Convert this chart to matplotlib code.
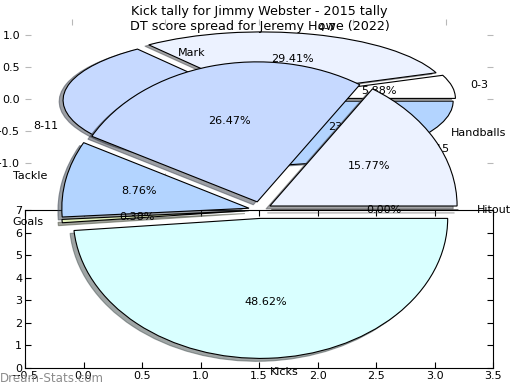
import matplotlib
matplotlib.use('Agg')
import matplotlib.pyplot as plt

# Jimmy Webster 2015 - games per kick bracket
tally_labels = ['0-3', '4-7', '8-11', '12-15']
tally_games = [1, 5, 7, 4]

# Jeremy Howe 2022 - share of DT score (%)
dt_labels = ['Hitout', 'Handballs', 'Mark', 'Tackle', 'Goals', 'Kicks']
dt_share = [0.00, 15.77, 26.47, 8.76, 0.38, 48.62]

colours = ['#ffffff', '#ecf2ff', '#c6d9ff', '#b3d4ff', '#e4f3bd', '#d9ffff']

# leftover empty frame underneath
frame_xticks = [-0.5, 0.0, 0.5, 1.0, 1.5, 2.0, 2.5, 3.0, 3.5]
frame_yticks = [0, 1, 2, 3, 4, 5, 6, 7]

plt.rcParams['font.family'] = 'DejaVu Sans'
plt.rcParams['font.size'] = 8

W, H = 520, 390
fig = plt.figure(figsize=(W / 100, H / 100), dpi=100)

shadow = dict(ox=-0.015, oy=-0.015)

# first pie (kick tally)
ax1 = fig.add_axes([25 / W, 1 - 179 / H, 468 / W, 160 / H])
ax1.pie(tally_games, labels=tally_labels, colors=colours[:len(tally_games)],
        explode=[0.05] * len(tally_games), shadow=shadow, autopct='%.2f%%',
        wedgeprops=dict(edgecolor='black', linewidth=0.8))
ax1.set_aspect('auto')
ax1.set_xlim(-1.25, 1.25)
ax1.set_ylim(-1.25, 1.25)
ax1.set_xticks([-1, -0.5, 0, 0.5, 1])
ax1.set_yticks([-1, -0.5, 0, 0.5, 1])
ax1.tick_params(direction='in', color='#b8b8b8', labelcolor='black',
                left=True, right=True, top=True, bottom=True,
                labelbottom=False, length=4)
ax1.set_title('Kick tally for Jimmy Webster - 2015 tally', fontsize=9.2, pad=3)

# empty frame
ax2 = fig.add_axes([25 / W, 22 / H, 468 / W, 158 / H])
ax2.set_xlim(frame_xticks[0], frame_xticks[-1])
ax2.set_ylim(frame_yticks[0], frame_yticks[-1])
ax2.set_xticks(frame_xticks)
ax2.set_yticks(frame_yticks)
ax2.tick_params(direction='in', top=True, right=True, length=4, pad=2)

# second pie (DT score spread), drawn over everything
ax3 = fig.add_axes([26 / W, 5 / H, 468 / W, 350 / H])
ax3.pie(dt_share, labels=dt_labels, colors=colours[:len(dt_share)],
        explode=[0.06] * len(dt_share), shadow=shadow, autopct='%.2f%%',
        wedgeprops=dict(edgecolor='black', linewidth=0.8))
ax3.set_aspect('auto')
ax3.set_xlim(-1.25, 1.25)
ax3.set_ylim(-1.25, 1.25)
ax3.set_title('DT score spread for Jeremy Howe (2022)', fontsize=9.2, pad=3.5)

fig.text(0.0, 12 / H, 'Dream-Stats.com', color='#8c8c8c', fontsize=8.6,
         ha='left', va='center')

fig.savefig('out.png', dpi=100)
